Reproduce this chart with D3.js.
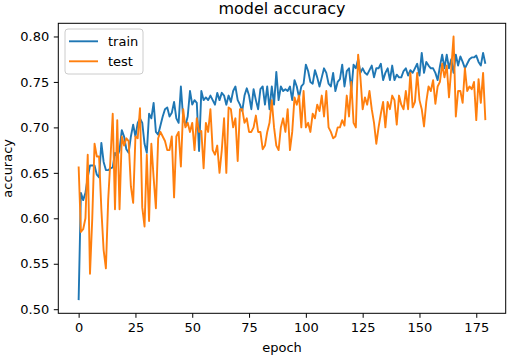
<!DOCTYPE html>
<html>
<head>
<meta charset="utf-8">
<script src="https://d3js.org/d3.v7.min.js"></script>
<style>
  body { margin: 0; background: #fff; }
  text { font-family: "DejaVu Sans", sans-serif; fill: #000; }
</style>
</head>
<body>
<div id="chart_div"></div>
<script>
// accuracy per epoch
const train = [
  0.510, 0.628, 0.620, 0.628, 0.645, 0.658, 0.658, 0.658, 0.648, 0.645,
  0.683, 0.662, 0.653, 0.653, 0.655, 0.656, 0.672, 0.668, 0.675, 0.697,
  0.690, 0.676, 0.672, 0.690, 0.703, 0.690, 0.705, 0.710, 0.705, 0.682,
  0.672, 0.715, 0.710, 0.727, 0.695, 0.692, 0.702, 0.712, 0.720, 0.722,
  0.712, 0.716, 0.728, 0.710, 0.705, 0.745, 0.710, 0.702, 0.712, 0.740,
  0.725, 0.730, 0.727, 0.674, 0.740, 0.730, 0.733, 0.730, 0.735, 0.730,
  0.725, 0.738, 0.730, 0.738, 0.735, 0.725, 0.735, 0.728, 0.740, 0.745,
  0.730, 0.725, 0.718, 0.735, 0.743, 0.735, 0.720, 0.742, 0.730, 0.720,
  0.742, 0.745, 0.725, 0.745, 0.720, 0.745, 0.725, 0.761, 0.730, 0.745,
  0.740, 0.742, 0.740, 0.745, 0.730, 0.752, 0.745, 0.733, 0.745, 0.748,
  0.769, 0.762, 0.750, 0.748, 0.763, 0.755, 0.745, 0.755, 0.765, 0.760,
  0.748, 0.745, 0.760, 0.740, 0.750, 0.753, 0.769, 0.745, 0.762, 0.765,
  0.740, 0.769, 0.765, 0.775, 0.760, 0.765, 0.760, 0.758, 0.763, 0.768,
  0.755, 0.765, 0.765, 0.770, 0.752, 0.760, 0.765, 0.752, 0.768, 0.752,
  0.758, 0.755, 0.755, 0.762, 0.765, 0.757, 0.763, 0.760, 0.765, 0.770,
  0.757, 0.782, 0.760, 0.772, 0.768, 0.765, 0.765, 0.760, 0.752, 0.767,
  0.780, 0.765, 0.780, 0.765, 0.775, 0.760, 0.780, 0.768, 0.778, 0.772,
  0.765, 0.770, 0.775, 0.777, 0.777, 0.779, 0.772, 0.768, 0.782, 0.770
];

const test = [
  0.657, 0.585, 0.588, 0.600, 0.670, 0.539, 0.600, 0.682, 0.668, 0.668,
  0.610, 0.565, 0.545, 0.620, 0.665, 0.715, 0.610, 0.708, 0.610, 0.690,
  0.680, 0.688, 0.685, 0.635, 0.617, 0.690, 0.688, 0.721, 0.612, 0.591,
  0.670, 0.597, 0.682, 0.645, 0.611, 0.688, 0.695, 0.690, 0.685, 0.675,
  0.675, 0.690, 0.623, 0.690, 0.695, 0.657, 0.720, 0.700, 0.705, 0.695,
  0.705, 0.675, 0.710, 0.695, 0.696, 0.655, 0.705, 0.695, 0.720, 0.675,
  0.670, 0.680, 0.650, 0.675, 0.710, 0.650, 0.722, 0.720, 0.700, 0.710,
  0.663, 0.720, 0.720, 0.705, 0.710, 0.695, 0.695, 0.700, 0.713, 0.695,
  0.695, 0.676, 0.680, 0.695, 0.705, 0.730, 0.700, 0.680, 0.675, 0.700,
  0.710, 0.695, 0.720, 0.675, 0.695, 0.733, 0.725, 0.735, 0.700, 0.740,
  0.700, 0.705, 0.695, 0.715, 0.710, 0.725, 0.718, 0.735, 0.712, 0.740,
  0.700, 0.695, 0.688, 0.690, 0.700, 0.700, 0.708, 0.702, 0.735, 0.712,
  0.750, 0.705, 0.700, 0.780, 0.755, 0.720, 0.733, 0.725, 0.740, 0.720,
  0.705, 0.682, 0.700, 0.715, 0.728, 0.700, 0.728, 0.720, 0.735, 0.730,
  0.703, 0.735, 0.725, 0.720, 0.740, 0.720, 0.760, 0.722, 0.728, 0.760,
  0.730, 0.720, 0.701, 0.728, 0.745, 0.740, 0.752, 0.726, 0.745, 0.750,
  0.770, 0.755, 0.768, 0.733, 0.765, 0.800, 0.712, 0.740, 0.740, 0.727,
  0.765, 0.740, 0.745, 0.742, 0.750, 0.708, 0.753, 0.727, 0.760, 0.708
];

const seriesNames = ["train", "test"];
const seriesColors = ["#1f77b4", "#ff7f0e"];
const xTicks = [0, 25, 50, 75, 100, 125, 150, 175];
const yTicks = [0.50, 0.55, 0.60, 0.65, 0.70, 0.75, 0.80];

// set the dimensions and margins of the plot
const margin = {top: 23.3, right: 4.3, bottom: 45.7, left: 58.3},
  width = 510 - margin.left - margin.right,
  height = 359 - margin.top - margin.bottom;

const svg = d3.select("#chart_div")
  .append("svg")
  .attr("width", 510)
  .attr("height", 359)
  .append("g")
  .attr("transform", `translate(${margin.left},${margin.top})`);

// matplotlib style 5% margins on both axes
const n = train.length;
const xPad = (n - 1) * 0.05;
const x = d3.scaleLinear()
  .domain([-xPad, n - 1 + xPad])
  .range([0, width]);

const allVals = train.concat(test);
const yMin = d3.min(allVals), yMax = d3.max(allVals);
const yPad = (yMax - yMin) * 0.05;
const y = d3.scaleLinear()
  .domain([yMin - yPad, yMax + yPad])
  .range([height, 0]);

// X axis
const xAxis = svg.append("g")
  .attr("transform", `translate(0, ${height})`)
  .call(d3.axisBottom(x).tickValues(xTicks).tickSize(4.5).tickPadding(4.5).tickSizeOuter(0));

// Y axis
const yAxis = svg.append("g")
  .call(d3.axisLeft(y).tickValues(yTicks).tickFormat(d3.format(".2f")).tickSize(4.5).tickPadding(4.5).tickSizeOuter(0));

[xAxis, yAxis].forEach(a => {
  a.select(".domain").remove();
  a.selectAll(".tick line").attr("stroke", "#000").attr("stroke-width", 1);
  a.selectAll(".tick text").style("font-size", "13px").style("font-family", "DejaVu Sans");
});

// lines
const line = d3.line()
  .x((d, i) => x(i))
  .y(d => y(d));

[train, test].forEach((data, k) => {
  svg.append("path")
    .datum(data)
    .attr("fill", "none")
    .attr("stroke", seriesColors[k])
    .attr("stroke-width", 1.9)
    .attr("stroke-linejoin", "round")
    .attr("d", line);
});

// frame
svg.append("rect")
  .attr("x", 0)
  .attr("y", 0)
  .attr("width", width)
  .attr("height", height)
  .attr("fill", "none")
  .attr("stroke", "#000")
  .attr("stroke-width", 1);

// title
svg.append("text")
  .attr("text-anchor", "middle")
  .attr("x", width / 2)
  .attr("y", -9.5)
  .style("font-size", "16px")
  .text("model accuracy");

// x label
svg.append("text")
  .attr("text-anchor", "middle")
  .attr("x", width / 2)
  .attr("y", height + 38.5)
  .style("font-size", "13px")
  .text("epoch");

// y label
svg.append("text")
  .attr("text-anchor", "middle")
  .attr("transform", "rotate(-90)")
  .attr("x", -height / 2)
  .attr("y", -46.5)
  .style("font-size", "13px")
  .text("accuracy");

// legend
const legend = svg.append("g")
  .attr("transform", "translate(6.7, 5.7)");

legend.append("rect")
  .attr("width", 78)
  .attr("height", 45)
  .attr("rx", 3)
  .attr("fill", "#fff")
  .attr("fill-opacity", 0.8)
  .attr("stroke", "#cccccc")
  .attr("stroke-width", 1);

seriesNames.forEach((name, k) => {
  const ly = 12.3 + k * 20;
  legend.append("line")
    .attr("x1", 4)
    .attr("x2", 33)
    .attr("y1", ly)
    .attr("y2", ly)
    .attr("stroke", seriesColors[k])
    .attr("stroke-width", 1.9);
  legend.append("text")
    .attr("x", 43)
    .attr("y", ly)
    .attr("dy", "0.35em")
    .style("font-size", "13px")
    .text(name);
});
</script>
</body>
</html>
